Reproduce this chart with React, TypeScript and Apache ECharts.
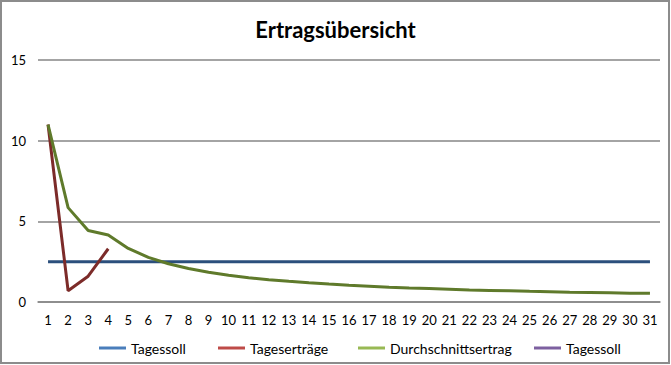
import React, { useEffect, useRef } from "react";
import * as echarts from "echarts";

const days = Array.from({ length: 31 }, (_, i) => String(i + 1));
const tagessoll = [2.5, 2.5, 2.5, 2.5, 2.5, 2.5, 2.5, 2.5, 2.5, 2.5, 2.5, 2.5, 2.5, 2.5, 2.5, 2.5, 2.5, 2.5, 2.5, 2.5, 2.5, 2.5, 2.5, 2.5, 2.5, 2.5, 2.5, 2.5, 2.5, 2.5, 2.5];
const tagesertraege = [11, 0.7, 1.6, 3.3];
const durchschnitt = [11, 5.85, 4.43, 4.15, 3.32, 2.77, 2.37, 2.08, 1.84, 1.66, 1.51, 1.38, 1.28, 1.19, 1.11, 1.04, 0.98, 0.92, 0.87, 0.83, 0.79, 0.75, 0.72, 0.69, 0.66, 0.64, 0.61, 0.59, 0.57, 0.55, 0.54];
const tagessoll2: number[] = [];

const seriesNames = ["Tagessoll", "Tageserträge", "Durchschnittsertrag", "Tagessoll "];
const legendColors = ["#4a7ebb", "#be4b48", "#98b954", "#7d60a0"];
const lineColors = ["#2b4f7c", "#7c2b29", "#5f7a2b", "#7d60a0"];
const legendLefts = [94, 213, 353, 529];

const FONT = "Lato, 'Open Sans', sans-serif";

export default function App() {
  const ref = useRef<HTMLDivElement>(null);
  useEffect(() => {
    document.body.style.margin = "0";
    const chart = echarts.init(ref.current!, null, { renderer: "svg" });
    const datasets = [tagessoll, tagesertraege, durchschnitt, tagessoll2];
    chart.setOption({
      animation: false,
      backgroundColor: "#ffffff",
      title: {
        text: "Ertragsübersicht",
        left: "center",
        top: 13,
        textStyle: { fontFamily: FONT, fontWeight: "bold", fontSize: 22, color: "#000" },
      },
      graphic: [
        {
          type: "rect",
          shape: { x: 1, y: 1, width: 668, height: 362 },
          style: { fill: "none", stroke: "#8c8c8c", lineWidth: 2 },
          silent: true,
        },
      ],
      grid: { left: 38, right: 11, top: 60, bottom: 63 },
      legend: seriesNames.map((name, i) => ({
        left: legendLefts[i],
        top: 336,
        itemWidth: 27,
        itemHeight: 3,
        icon: "rect",
        textStyle: { fontFamily: FONT, fontSize: 14, color: "#000" },
        data: [{ name, itemStyle: { color: legendColors[i] }, lineStyle: { color: legendColors[i] } }],
        formatter: (n: string) => n.trim(),
      })),
      xAxis: {
        type: "category",
        data: days,
        boundaryGap: true,
        axisLine: { lineStyle: { color: "#868686", width: 1.5 } },
        axisTick: { show: false },
        axisLabel: { fontFamily: FONT, fontSize: 13, color: "#000", margin: 11 },
      },
      yAxis: {
        type: "value",
        min: 0,
        max: 15,
        interval: 5,
        axisLine: { show: false },
        axisTick: { show: false },
        splitLine: { lineStyle: { color: "#868686", width: 1.5 } },
        axisLabel: { fontFamily: FONT, fontSize: 13, color: "#000", margin: 12 },
      },
      series: seriesNames.map((name, i) => ({
        name,
        type: "line",
        data: datasets[i],
        symbol: "none",
        itemStyle: { color: legendColors[i] },
        lineStyle: { color: lineColors[i], width: 3 },
      })),
    });
    return () => chart.dispose();
  }, []);
  return <div ref={ref} style={{ width: 671, height: 365 }} />;
}
